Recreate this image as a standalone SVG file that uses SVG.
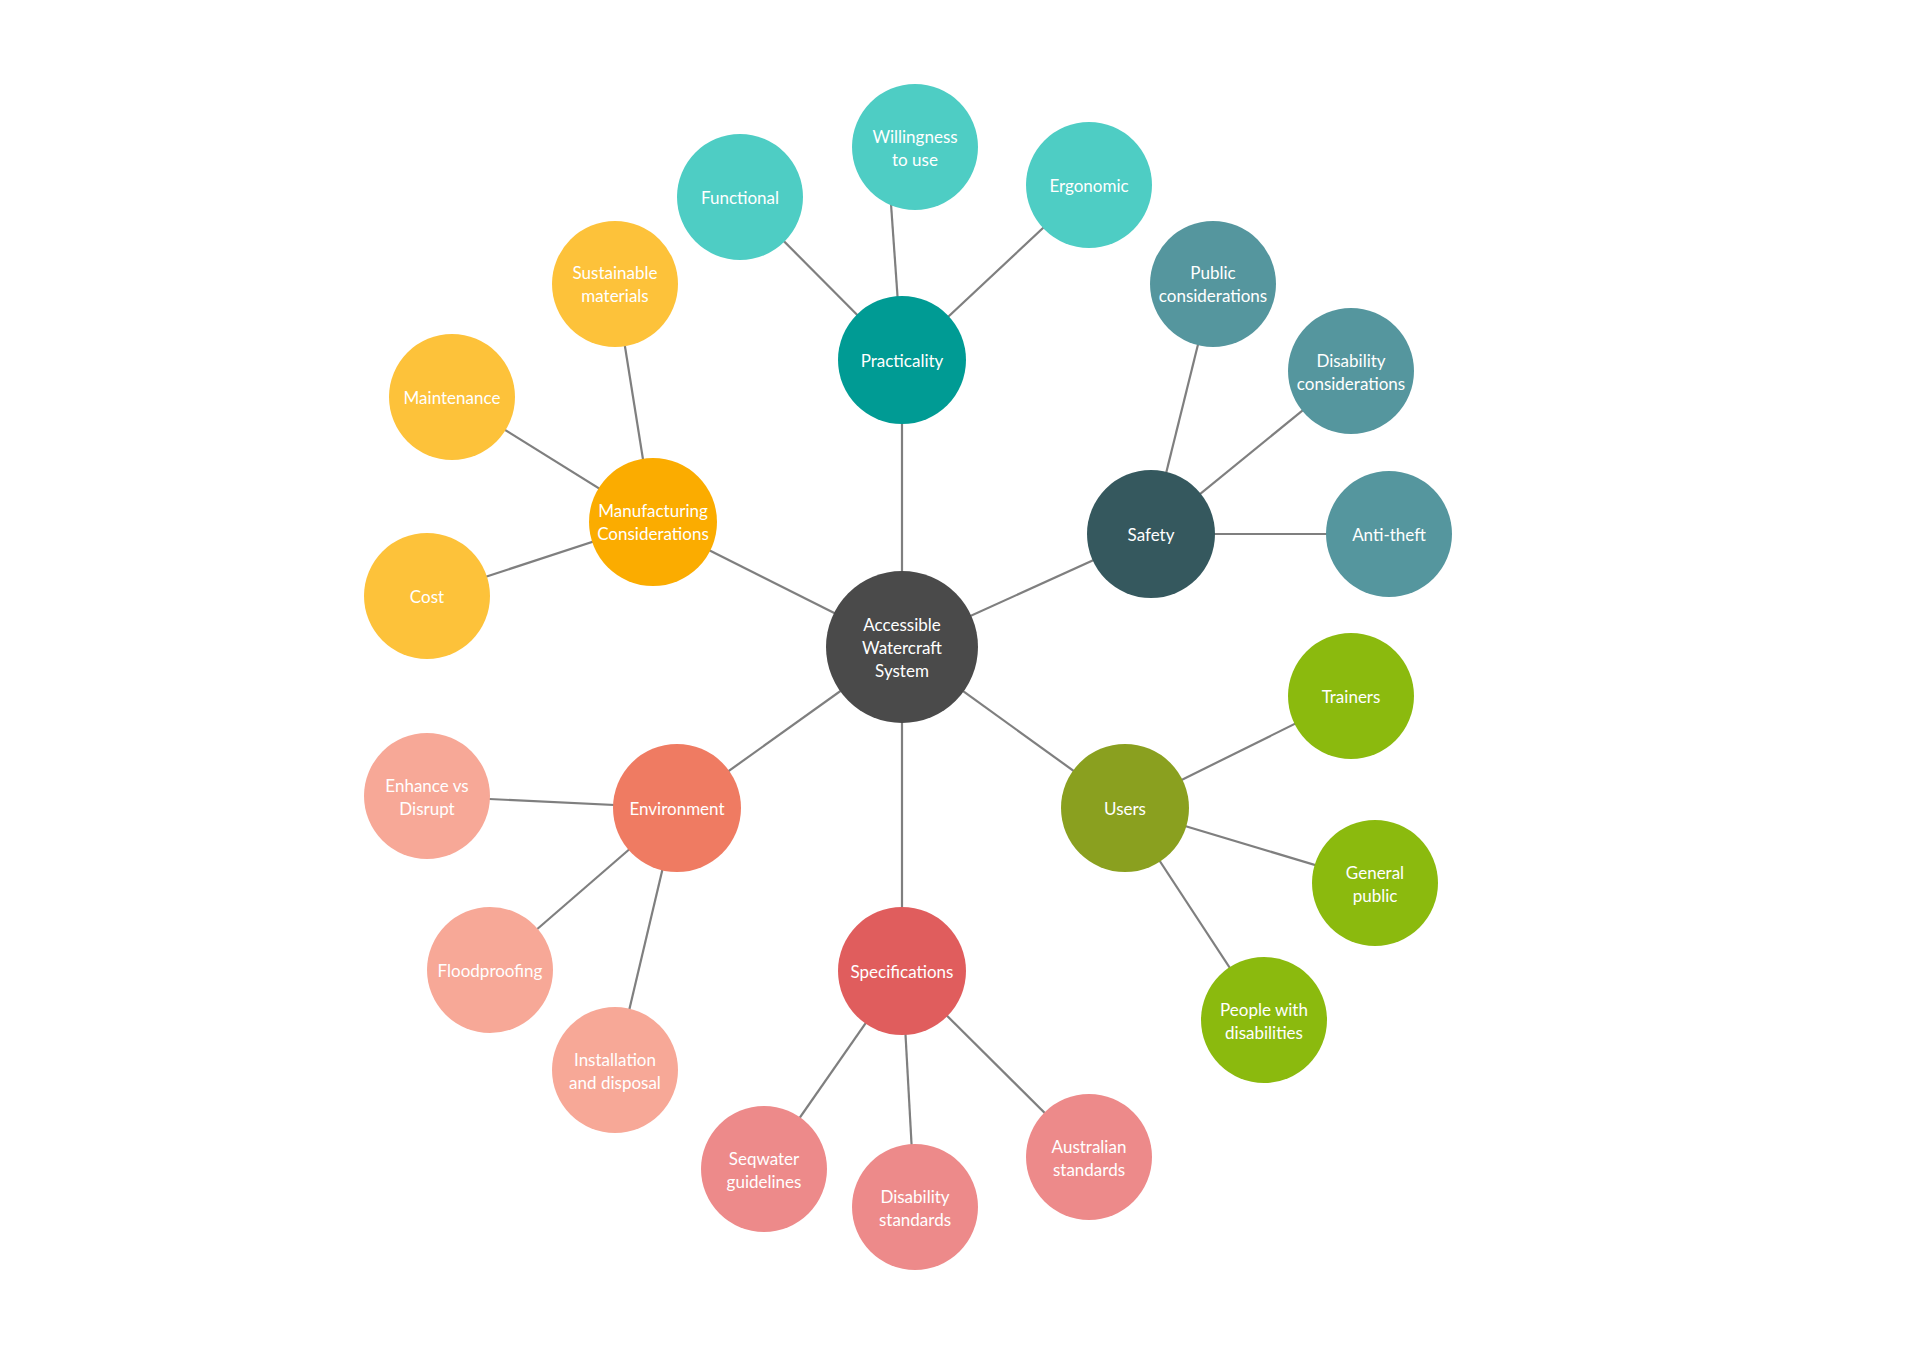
<svg xmlns="http://www.w3.org/2000/svg" width="1920" height="1358" viewBox="0 0 1920 1358">
<style>
text{font-family:Lato,"Open Sans",sans-serif;font-size:17px;fill:#fff;text-anchor:middle;dominant-baseline:central}
#connectors line{stroke:#7f7f7f;stroke-width:2.2}
</style>
<rect width="1920" height="1358" fill="#fff"/>
<g id="connectors">
<line x1="902" y1="647" x2="902" y2="360"/><line x1="902" y1="647" x2="1151" y2="534"/><line x1="902" y1="647" x2="1125" y2="808"/><line x1="902" y1="647" x2="902" y2="971"/><line x1="902" y1="647" x2="677" y2="808"/><line x1="902" y1="647" x2="653" y2="522"/>
<line x1="902" y1="360" x2="740" y2="197"/><line x1="902" y1="360" x2="887" y2="147"/><line x1="902" y1="360" x2="1089" y2="185"/>
<line x1="1151" y1="534" x2="1213" y2="284"/><line x1="1151" y1="534" x2="1351" y2="371"/><line x1="1151" y1="534" x2="1389" y2="534"/>
<line x1="1125" y1="808" x2="1351" y2="696"/><line x1="1125" y1="808" x2="1375" y2="883"/><line x1="1125" y1="808" x2="1264" y2="1020"/>
<line x1="902" y1="971" x2="764" y2="1169"/><line x1="902" y1="971" x2="915" y2="1207"/><line x1="902" y1="971" x2="1089" y2="1157"/>
<line x1="677" y1="808" x2="427" y2="796"/><line x1="677" y1="808" x2="490" y2="970"/><line x1="677" y1="808" x2="615" y2="1070"/>
<line x1="653" y1="522" x2="615" y2="284"/><line x1="653" y1="522" x2="452" y2="397"/><line x1="653" y1="522" x2="427" y2="596"/>
</g>
<g id="center"><circle cx="902" cy="647" r="76" fill="#4a4a4a"/><text x="902" y="624">Accessible</text><text x="902" y="647">Watercraft</text><text x="902" y="670">System</text></g>
<g id="practicality"><circle cx="902" cy="360" r="64" fill="#009b94"/><text x="902" y="360">Practicality</text></g>
<g id="functional"><circle cx="740" cy="197" r="63" fill="#4ecdc4"/><text x="740" y="197">Functional</text></g>
<g id="willingness"><circle cx="915" cy="147" r="63" fill="#4ecdc4"/><text x="915" y="136">Willingness</text><text x="915" y="159">to use</text></g>
<g id="ergonomic"><circle cx="1089" cy="185" r="63" fill="#4ecdc4"/><text x="1089" y="185">Ergonomic</text></g>
<g id="safety"><circle cx="1151" cy="534" r="64" fill="#35585e"/><text x="1151" y="534">Safety</text></g>
<g id="public"><circle cx="1213" cy="284" r="63" fill="#55969e"/><text x="1213" y="272">Public</text><text x="1213" y="295">considerations</text></g>
<g id="disabilitycons"><circle cx="1351" cy="371" r="63" fill="#55969e"/><text x="1351" y="360">Disability</text><text x="1351" y="383">considerations</text></g>
<g id="antitheft"><circle cx="1389" cy="534" r="63" fill="#55969e"/><text x="1389" y="534">Anti-theft</text></g>
<g id="users"><circle cx="1125" cy="808" r="64" fill="#8aa01f"/><text x="1125" y="808">Users</text></g>
<g id="trainers"><circle cx="1351" cy="696" r="63" fill="#8bba0e"/><text x="1351" y="696">Trainers</text></g>
<g id="generalpublic"><circle cx="1375" cy="883" r="63" fill="#8bba0e"/><text x="1375" y="872">General</text><text x="1375" y="895">public</text></g>
<g id="people"><circle cx="1264" cy="1020" r="63" fill="#8bba0e"/><text x="1264" y="1009">People with</text><text x="1264" y="1032">disabilities</text></g>
<g id="specifications"><circle cx="902" cy="971" r="64" fill="#e05d5d"/><text x="902" y="971">Specifications</text></g>
<g id="seqwater"><circle cx="764" cy="1169" r="63" fill="#ed8a8a"/><text x="764" y="1158">Seqwater</text><text x="764" y="1181">guidelines</text></g>
<g id="disabilitystd"><circle cx="915" cy="1207" r="63" fill="#ed8a8a"/><text x="915" y="1196">Disability</text><text x="915" y="1219">standards</text></g>
<g id="australian"><circle cx="1089" cy="1157" r="63" fill="#ed8a8a"/><text x="1089" y="1146">Australian</text><text x="1089" y="1169">standards</text></g>
<g id="environment"><circle cx="677" cy="808" r="64" fill="#ef7b62"/><text x="677" y="808">Environment</text></g>
<g id="enhance"><circle cx="427" cy="796" r="63" fill="#f7a897"/><text x="427" y="785">Enhance vs</text><text x="427" y="808">Disrupt</text></g>
<g id="floodproofing"><circle cx="490" cy="970" r="63" fill="#f7a897"/><text x="490" y="970">Floodproofing</text></g>
<g id="installation"><circle cx="615" cy="1070" r="63" fill="#f7a897"/><text x="615" y="1059">Installation</text><text x="615" y="1082">and disposal</text></g>
<g id="manufacturing"><circle cx="653" cy="522" r="64" fill="#fbac00"/><text x="653" y="510">Manufacturing</text><text x="653" y="533">Considerations</text></g>
<g id="sustainable"><circle cx="615" cy="284" r="63" fill="#fdc23a"/><text x="615" y="272">Sustainable</text><text x="615" y="295">materials</text></g>
<g id="maintenance"><circle cx="452" cy="397" r="63" fill="#fdc23a"/><text x="452" y="397">Maintenance</text></g>
<g id="cost"><circle cx="427" cy="596" r="63" fill="#fdc23a"/><text x="427" y="596">Cost</text></g>
</svg>
